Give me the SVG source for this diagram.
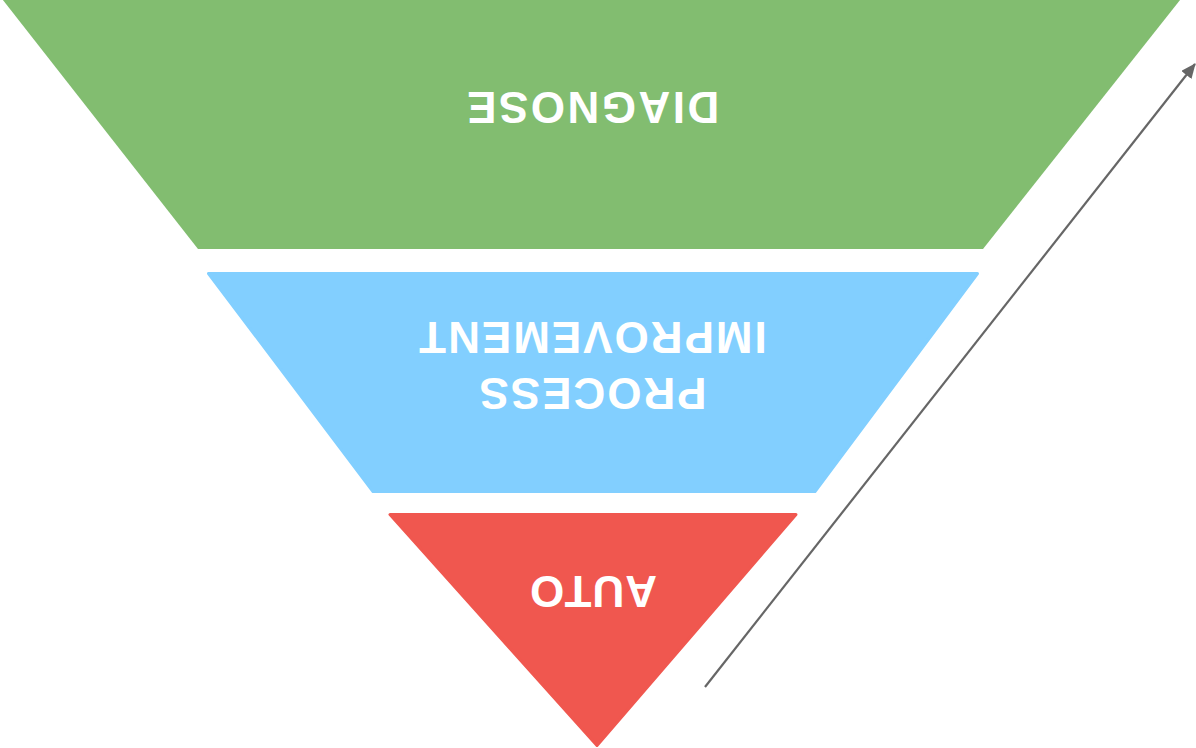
<svg xmlns="http://www.w3.org/2000/svg" width="1196" height="748" viewBox="0 0 1196 748">
  <style>
    .lbl { font-family: "Liberation Sans", Arial, sans-serif; font-weight: bold; fill: #ffffff; text-anchor: middle; }
    .conn { fill: none; stroke: #666666; stroke-width: 2.2; }
  </style>
  <defs>
    <marker id="arrow" markerUnits="userSpaceOnUse" markerWidth="16" markerHeight="14" refX="14" refY="6.5" orient="auto">
      <path d="M0,0 L15,6.5 L0,13 z" fill="#666666"/>
    </marker>
  </defs>
  <rect width="1196" height="748" fill="#ffffff"/>
  <g id="node-diagnose">
    <polygon points="-1,-5 1184,-5 983,249 198,249" fill="#82BD70"/>
    <text class="lbl" x="592" y="124" font-size="44" letter-spacing="2.5" transform="rotate(180 592 108)">DIAGNOSE</text>
  </g>
  <g id="node-process">
    <polygon points="208.5,273.5 977.5,273.5 815,491.5 373,491.5" fill="#82CFFF" stroke="#82CFFF" stroke-width="3" stroke-linejoin="round"/>
    <text class="lbl" font-size="44" letter-spacing="2" transform="rotate(180 592 366)"><tspan x="592" y="354">PROCESS</tspan><tspan x="592" y="410">IMPROVEMENT</tspan></text>
  </g>
  <g id="node-auto">
    <polygon points="390,514.5 796,514.5 597,745.5" fill="#F0574F" stroke="#F0574F" stroke-width="3" stroke-linejoin="round"/>
    <text class="lbl" x="593" y="608" font-size="44" letter-spacing="1" transform="rotate(180 593 592)">AUTO</text>
  </g>
  <g id="connectors">
    <path class="conn" d="M705,687 L1195,64" marker-end="url(#arrow)"/>
  </g>
</svg>
